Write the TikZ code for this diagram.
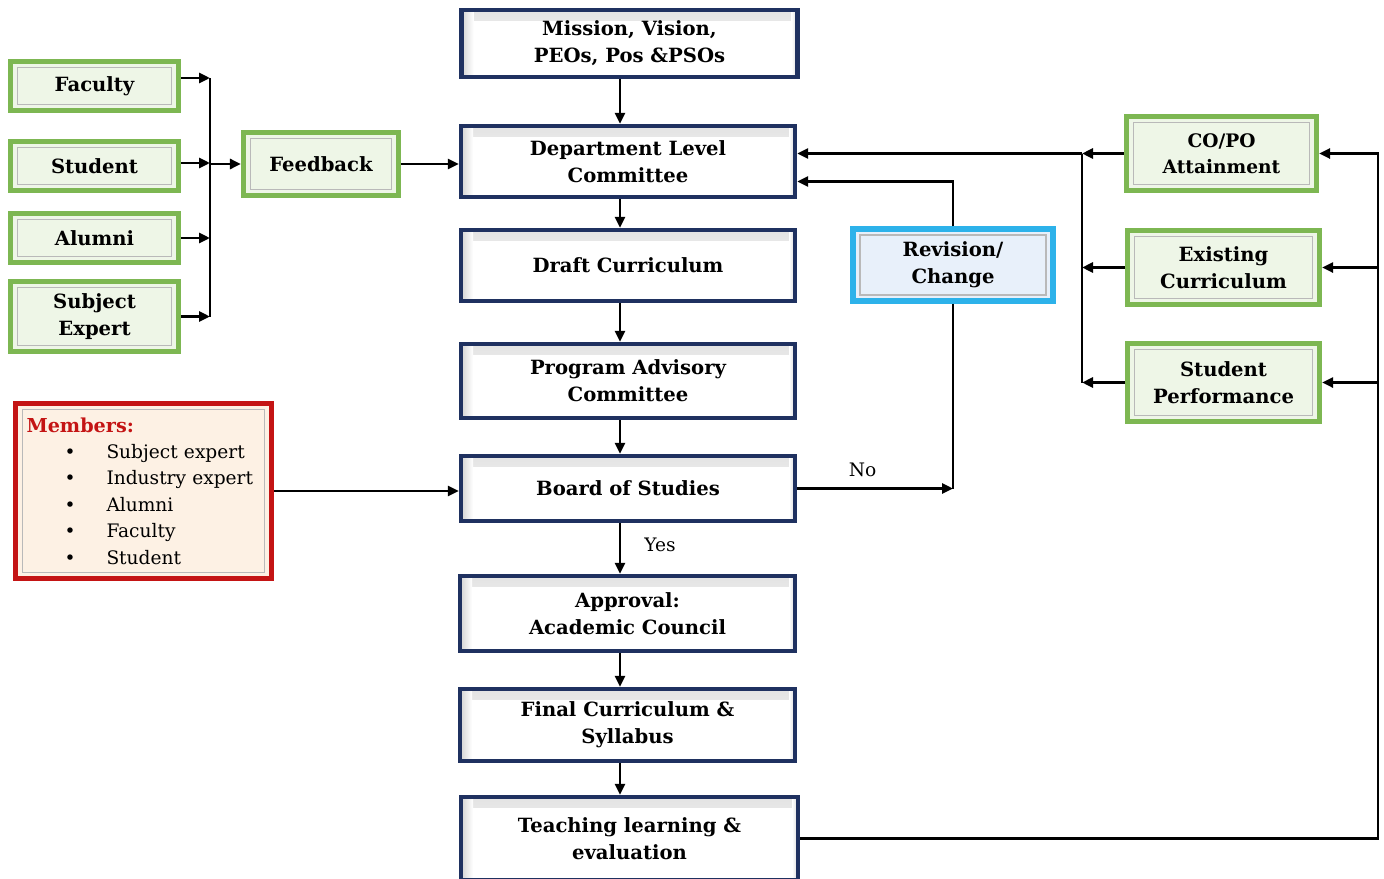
\documentclass[tikz,border=0pt]{standalone}
\usepackage{fontspec}
\setmainfont{DejaVu Serif}
\usetikzlibrary{arrows.meta,calc}
\definecolor{navyc}{HTML}{1F3160}
\definecolor{greenc}{HTML}{7DB752}
\definecolor{greenf}{HTML}{EEF6E7}
\definecolor{bluec}{HTML}{2DB2EA}
\definecolor{bluef}{HTML}{E8F0FA}
\definecolor{redc}{HTML}{C41414}
\definecolor{redf}{HTML}{FDF1E4}
\newcommand\boldtxt{\fontsize{9.8}{13.5}\selectfont\bfseries}
\newcommand\regtxt{\fontsize{9.3}{13.2}\selectfont}
\tikzset{
  base/.style={rectangle, align=center, inner sep=2pt},
  navybox/.style={base, draw=navyc, line width=2.2pt, fill=white, font=\boldtxt,
    path picture={
      \shade[top color=gray!22, bottom color=white] (path picture bounding box.north west) rectangle ([shift={(0pt,-5pt)}]path picture bounding box.north east);
      \shade[left color=gray!35, right color=white] (path picture bounding box.north west) rectangle ([shift={(6pt,0pt)}]path picture bounding box.south west);
      \shade[left color=white, right color=gray!30] ([shift={(-3pt,0pt)}]path picture bounding box.north east) rectangle (path picture bounding box.south east);
    }},
  framed/.style={path picture={\draw[gray!55, line width=0.7pt] ([shift={(3.5pt,-3pt)}]path picture bounding box.north west) rectangle ([shift={(-3.5pt,3pt)}]path picture bounding box.south east);}},
  greenbox/.style={base, draw=greenc, line width=2.6pt, fill=greenf, font=\boldtxt, framed},
  bluebox/.style={base, draw=bluec, line width=2.6pt, fill=bluef, font=\boldtxt, framed},
  redbox/.style={base, draw=redc, line width=2.6pt, fill=redf, font=\regtxt, framed, align=left},
  conn/.style={line width=1.4pt, draw=black},
  arr/.style={conn, -{Triangle[length=5.5pt,width=5pt]}},
  lbl/.style={font=\regtxt, inner sep=1pt}
}
\begin{document}
\begin{tikzpicture}[x=0.5pt,y=-0.5pt]
\useasboundingbox[fill=white] (0,0) rectangle (1384,878);
% coordinates for busses
\coordinate (spine) at (620,0);
\coordinate (lbus) at (210,0);
\coordinate (rbus) at (1082,0);
\coordinate (rloop) at (1378,0);

% central column
\node[navybox, minimum width=168pt, minimum height=33.5pt] (mission) at (629.5,43.5) {Mission, Vision,\\PEOs, Pos \&PSOs};
\node[navybox, minimum width=167pt, minimum height=35.5pt] (dept) at (628,161.5) {Department Level\\Committee};
\node[navybox, minimum width=167pt, minimum height=35.5pt] (draft) at (628,265.5) {Draft Curriculum};
\node[navybox, minimum width=167pt, minimum height=37pt] (pac) at (628,381) {Program Advisory\\Committee};
\node[navybox, minimum width=167pt, minimum height=32.5pt] (bos) at (628,488.5) {Board of Studies};
\node[navybox, minimum width=167.5pt, minimum height=37.5pt] (approval) at (627.5,613.5) {Approval:\\Academic Council};
\node[navybox, minimum width=167.5pt, minimum height=36pt] (final) at (627.5,725) {Final Curriculum \&\\Syllabus};
\node[navybox, minimum width=168.5pt, minimum height=41.5pt] (teach) at (629.5,838.5) {Teaching learning \&\\evaluation};

% left green column
\node[greenbox, minimum width=84pt, minimum height=24.5pt] (faculty) at (94.5,86) {Faculty};
\node[greenbox, minimum width=84pt, minimum height=24.5pt] (student) at (94.5,166) {Student};
\node[greenbox, minimum width=84pt, minimum height=24.5pt] (alumni) at (94.5,238) {Alumni};
\node[greenbox, minimum width=84pt, minimum height=35pt] (expert) at (94.5,316.5) {Subject\\Expert};
\node[greenbox, minimum width=77.5pt, minimum height=31.5pt] (feedback) at (321,164) {Feedback};

% members
\node[redbox, text width=117pt, inner xsep=5.5pt, minimum height=87.5pt] (members) at (143.5,491)
  {{\color{redc}\fontsize{9.6}{13.2}\selectfont\bfseries Members:}\\
   \hspace*{19pt}\makebox[21pt][l]{\textbullet}Subject expert\\
   \hspace*{19pt}\makebox[21pt][l]{\textbullet}Industry expert\\
   \hspace*{19pt}\makebox[21pt][l]{\textbullet}Alumni\\
   \hspace*{19pt}\makebox[21pt][l]{\textbullet}Faculty\\
   \hspace*{19pt}\makebox[21pt][l]{\textbullet}Student};

% revision
\node[bluebox, minimum width=100pt, minimum height=36pt] (revision) at (953,265) {Revision/\\Change};

% right green column
\node[greenbox, minimum width=95pt, minimum height=37pt, font=\fontsize{9.3}{12.8}\selectfont\bfseries] (copo) at (1221.5,153.5) {CO/PO\\Attainment};
\node[greenbox, minimum width=96pt, minimum height=37pt] (existing) at (1223.5,267.5) {Existing\\Curriculum};
\node[greenbox, minimum width=96pt, minimum height=39pt] (sp) at (1223.5,382.5) {Student\\Performance};

% central arrows
\draw[arr] (mission.south -| spine) -- (dept.north -| spine);
\draw[arr] (dept.south -| spine) -- (draft.north -| spine);
\draw[arr] (draft.south -| spine) -- (pac.north -| spine);
\draw[arr] (pac.south -| spine) -- (bos.north -| spine);
\draw[arr] (bos.south -| spine) -- (approval.north -| spine) node[lbl, midway, xshift=20pt, yshift=2pt] {Yes};
\draw[arr] (approval.south -| spine) -- (final.north -| spine);
\draw[arr] (final.south -| spine) -- (teach.north -| spine);

% left feedback
\draw[arr] ([yshift=4pt]faculty.east) -- ([yshift=4pt]faculty.east -| lbus);
\draw[arr] ([yshift=1.5pt]student.east) -- ([yshift=1.5pt]student.east -| lbus);
\draw[arr] (alumni.east) -- (alumni.east -| lbus);
\draw[arr] (expert.east) -- (expert.east -| lbus);
\draw[conn] ([yshift=4pt]faculty.east -| lbus) -- (expert.east -| lbus);
\draw[arr] (lbus |- feedback.west) -- (feedback.west);
\draw[arr] (feedback.east) -- (feedback.east -| dept.west);

% members
\draw[arr] (members.east) -- (members.east -| bos.west);

% No branch
\draw[arr] (bos.east) -- (revision.south |- bos.east) node[lbl, pos=0.42, above=4pt] {No};
\draw[conn] (revision.south) -- (revision.south |- bos.east);
\draw[arr] (revision.north) |- ([yshift=-10pt]dept.east);

% right side
\draw[arr] (copo.west) -- (rbus |- copo.west);
\draw[arr] (rbus |- copo.west) -- (copo.west -| dept.east);
\draw[arr] (existing.west) -- (rbus |- existing.west);
\draw[arr] (sp.west) -- (rbus |- sp.west);
\draw[conn] (rbus |- copo.west) -- (rbus |- sp.west);

% loop back
\draw[arr] (teach.east) -- (rloop |- teach.east) -- (rloop |- copo.east) -- (copo.east);
\draw[arr] (rloop |- existing.east) -- (existing.east);
\draw[arr] (rloop |- sp.east) -- (sp.east);
\end{tikzpicture}
\end{document}
